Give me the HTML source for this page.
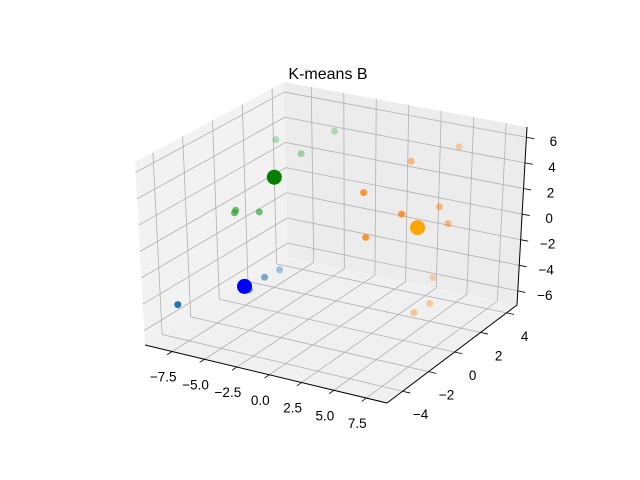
<!DOCTYPE html>
<html><head><meta charset="utf-8">
<style>
html,body{margin:0;padding:0;background:#fff;}
svg{display:block;font-family:"Liberation Sans",sans-serif;}
</style></head>
<body>
<svg id="chart" width="640" height="480" viewBox="0 0 640 480">
<text x="328" y="79" text-anchor="middle" font-size="16" fill="#000">K-means B</text>
<g id="panes"></g>
<g id="grid"></g>
<g id="axes"></g>
<g id="points"></g>
</svg>
<script>
// ---- data ----
const xTicks = [-7.5, -5.0, -2.5, 0.0, 2.5, 5.0, 7.5];
const yTicks = [-4, -2, 0, 2, 4];
const zTicks = [-6, -4, -2, 0, 2, 4, 6];
const xTickLabels = ["\u22127.5", "\u22125.0", "\u22122.5", "0.0", "2.5", "5.0", "7.5"];
const yTickLabels = ["\u22124", "\u22122", "0", "2", "4"];
const zTickLabels = ["\u22126", "\u22124", "\u22122", "0", "2", "4", "6"];
const xs = [-8.26, -5.94, -7.75, -7.02, -7.01, -7.14, -5.66, -8.25, -5.17, -3.69, 3.95, 6.82, 4.11, 4.34, 6.39, 6.58, 7.28, 4.11, 4.46, 3.73];
const ys = [-4, 0, 0.5, 2, -1, -0.8, -0.5, 3, 2, 3, -2, -2, -2, 1, 2.5, 1, 1, 3, 2.5, 2];
const zs = [-4.52, -4.60, -6.30, -5.63, 0.80, 0.85, 0.82, 3.66, 3.81, 5.21, 5.15, 4.10, 1.83, 5.69, 6.24, 2.66, 1.52, -4.65, -6.21, -6.70];
const clusters = [0, 0, 0, 0, 1, 1, 1, 1, 1, 1, 2, 2, 2, 2, 2, 2, 2, 2, 2, 2];
const centX = [-7.56, -5.01, 5.97];
const centY = [0, 0, 0];
const centZ = [-5.66, 3.30, 1.63];

// ---- axes / projection ----
const X0 = -9.6, X1 = 9.1, Y0 = -5.2, Y1 = 4.8, Z0 = -7.1, Z1 = 6.8;
const C = {
  "000": [145, 345], "100": [387, 403], "010": [288, 257], "110": [517, 305],
  "001": [135, 162], "101": [388, 210], "011": [284, 82], "111": [527, 127]
};
function proj(x, y, z) {
  const u = (x - X0) / (X1 - X0), v = (y - Y0) / (Y1 - Y0), w = (z - Z0) / (Z1 - Z0);
  let px = 0, py = 0;
  for (const i of [0, 1]) for (const j of [0, 1]) for (const k of [0, 1]) {
    const f = (i ? u : 1 - u) * (j ? v : 1 - v) * (k ? w : 1 - w);
    const c = C["" + i + j + k];
    px += f * c[0]; py += f * c[1];
  }
  return [px, py];
}
const NS = "http://www.w3.org/2000/svg";
function el(tag, attrs, parent) {
  const e = document.createElementNS(NS, tag);
  for (const k in attrs) e.setAttribute(k, attrs[k]);
  parent.appendChild(e);
  return e;
}
function poly(pts) { return pts.map(p => p[0].toFixed(1) + "," + p[1].toFixed(1)).join(" "); }
function line(a, b, stroke, w, parent) {
  return el("line", {x1: a[0], y1: a[1], x2: b[0], y2: b[1], stroke: stroke, "stroke-width": w}, parent);
}

const panes = document.getElementById("panes");
const grid = document.getElementById("grid");
const axes = document.getElementById("axes");
const pts = document.getElementById("points");

let p;
p = el("polygon", {points: poly([proj(X0,Y0,Z0), proj(X0,Y1,Z0), proj(X0,Y1,Z1), proj(X0,Y0,Z1)]), fill: "#f2f2f2"}, panes);


p = el("polygon", {points: poly([proj(X0,Y1,Z0), proj(X1,Y1,Z0), proj(X1,Y1,Z1), proj(X0,Y1,Z1)]), fill: "#ececec"}, panes);


p = el("polygon", {points: poly([proj(X0,Y0,Z0), proj(X1,Y0,Z0), proj(X1,Y1,Z0), proj(X0,Y1,Z0)]), fill: "#f0f0f0"}, panes);



const GC = "#b0b0b0";
xTicks.forEach((t, i) => {
  let l = line(proj(t,Y0,Z0), proj(t,Y1,Z0), GC, 0.8, grid);
  
  
  l = line(proj(t,Y1,Z0), proj(t,Y1,Z1), GC, 0.8, grid);
  
  
  const a = proj(t, Y0, Z0), b = proj(t, Y0 - 0.35, Z0);
  l = line(a, b, "#000", 0.8, axes);
  
  
  const tx = el("text", {x: a[0] - 9, y: a[1] + 30, "text-anchor": "middle", "font-size": "13.5", fill: "#000"}, axes);
  tx.textContent = xTickLabels[i];
  
  
});
yTicks.forEach((t, i) => {
  let l = line(proj(X0,t,Z0), proj(X1,t,Z0), GC, 0.8, grid);
  
  
  l = line(proj(X0,t,Z0), proj(X0,t,Z1), GC, 0.8, grid);
  
  
  const a = proj(X1, t, Z0), b = proj(X1 + 0.6, t, Z0);
  l = line(a, b, "#000", 0.8, axes);
  
  
  const tx = el("text", {x: a[0] + 18, y: a[1] + 28, "text-anchor": "middle", "font-size": "13.5", fill: "#000"}, axes);
  tx.textContent = yTickLabels[i];
  
  
});
zTicks.forEach((t, i) => {
  let l = line(proj(X0,Y0,t), proj(X0,Y1,t), GC, 0.8, grid);
  
  
  l = line(proj(X0,Y1,t), proj(X1,Y1,t), GC, 0.8, grid);
  
  
  const a = proj(X1, Y1, t), b = proj(X1 + 0.6, Y1, t);
  l = line(a, b, "#000", 0.8, axes);
  
  
  const tx = el("text", {x: a[0] + 27, y: a[1] + 9, "text-anchor": "middle", "font-size": "13.5", fill: "#000"}, axes);
  tx.textContent = zTickLabels[i];
  
  
});
let ax = line(proj(X0,Y0,Z0), proj(X1,Y0,Z0), "#000", 1, axes);


ax = line(proj(X1,Y0,Z0), proj(X1,Y1,Z0), "#000", 1, axes);


ax = line(proj(X1,Y1,Z0), proj(X1,Y1,Z1), "#000", 1, axes);



const pColors = ["#1f77b4", "#2ca02c", "#ff7f0e"];
const cColors = ["#0000ff", "#008000", "#ffa500"];
const order = xs.map((_, i) => i).sort((a, b) => ys[b] - ys[a]);
order.forEach(i => {
  const q = proj(xs[i], ys[i], zs[i]);
  const a = Math.max(0.3, Math.min(1, 1 - 0.7 * (ys[i] + 4) / 7));
  const c = el("circle", {cx: q[0].toFixed(1), cy: q[1].toFixed(1), r: 3.5, fill: pColors[clusters[i]], "fill-opacity": a.toFixed(2)}, pts);
  
  
});
centX.forEach((cx, i) => {
  const q = proj(cx, centY[i], centZ[i]);
  const c = el("circle", {cx: q[0].toFixed(1), cy: q[1].toFixed(1), r: 7.5, fill: cColors[i]}, pts);
  
  
});
</script>
</body></html>
